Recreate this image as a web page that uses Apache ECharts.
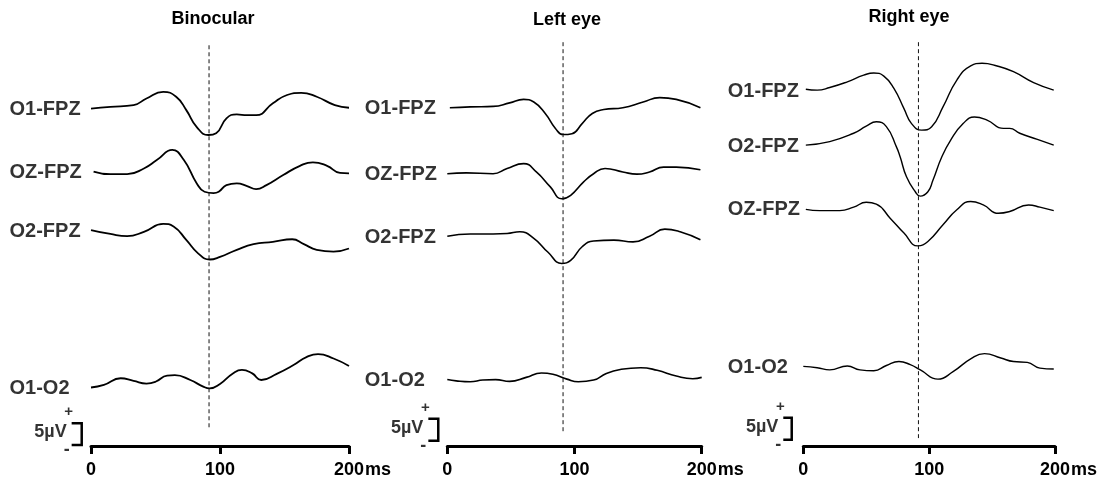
<!DOCTYPE html>
<html>
<head>
<meta charset="utf-8">
<script src="https://cdn.jsdelivr.net/npm/echarts@6/dist/echarts.min.js"></script>
<style>html,body{margin:0;padding:0;background:#fff;}#chart{width:1104px;height:481px;}</style>
</head>
<body>
<div id="chart"></div>
<script>
// ---------- DATA (time in ms, amplitude in µV) ----------
const panelTitles = ['Binocular', 'Left eye', 'Right eye'];
const channelsBinocular = ['O1-FPZ', 'OZ-FPZ', 'O2-FPZ', 'O1-O2'];
const channelsLeft = ['O1-FPZ', 'OZ-FPZ', 'O2-FPZ', 'O1-O2'];
const channelsRight = ['O1-FPZ', 'O2-FPZ', 'OZ-FPZ', 'O1-O2'];
const xTicks = [0, 100, 200];
const timeUnit = 'ms';
const scaleBarValue = 5; // µV
const scaleBarLabel = '5µV';
const latencies = [91.5, 91, 91.5]; // dashed latency marker, ms

// channel baselines (µV above the time axis)
const offsetsBinocular = [76.8, 62.3, 49.1, 13.4];
const offsetsLeft = [77.0, 62.0, 47.7, 15.2];
const offsetsRight = [80.9, 68.4, 53.9, 18.0];

// Binocular
const binoO1FPZ = [[0,-0.1],[15,0.3],[33,0.7],[43,2.2],[56,3.7],[66,2.6],[74,-0.5],[82,-4.3],[91,-6.1],[97,-5.7],[105,-2.3],[113,-1.4],[121,-1.6],[128,-1.6],[141,1.1],[152,3.0],[163,3.5],[175,2.6],[189,0.7],[200,0.1]];
const binoOZFPZ = [[2,0.1],[15,-0.5],[28,-0.5],[41,0.8],[51,2.7],[63,5.0],[72,2.7],[82,-2.6],[88,-4.5],[95,-4.8],[99,-4.5],[105,-3.0],[113,-2.6],[121,-3.2],[128,-3.9],[136,-3.0],[149,-0.7],[162,1.4],[172,2.2],[183,1.4],[193,-0.2],[200,-0.3]];
const binoO2FPZ = [[0,0],[15,-0.9],[28,-1.4],[41,-0.4],[56,1.4],[64,0.8],[74,-2.3],[83,-5.3],[92,-6.7],[100,-6.1],[113,-4.5],[126,-3.2],[141,-2.7],[156,-2.1],[165,-3.2],[175,-4.5],[188,-4.9],[200,-4.2]];
const binoO1O2 = [[0,-0.1],[10,0.5],[23,2.0],[33,1.4],[43,0.8],[50,1.2],[59,2.6],[65,2.7],[77,1.6],[87,0.1],[92,-0.3],[100,0.7],[110,3.1],[117,3.9],[125,3.1],[132,1.6],[144,3.0],[157,5.0],[167,6.8],[176,7.5],[188,6.5],[200,4.8]];

// Left eye
const leftO1FPZ = [[2,-0.1],[18,0.1],[36,0.2],[49,1.0],[60,1.8],[68,1.2],[77,-1.4],[85,-4.8],[91,-6.2],[98,-6.0],[106,-3.7],[114,-1.4],[123,-0.5],[138,-0.1],[154,1.2],[167,2.2],[180,1.8],[199,-0.1]];
const leftOZFPZ = [[0,-0.1],[15,0.1],[36,-0.1],[47,1.1],[60,2.2],[70,0.3],[81,-3.1],[90,-5.8],[97,-5.0],[107,-2.0],[115,-0.1],[124,1.1],[138,0.3],[149,-0.2],[159,0.3],[170,1.4],[180,1.4],[199,0.8]];
const leftO2FPZ = [[0,0],[18,0.5],[36,0.5],[47,0.6],[57,1.0],[68,-0.5],[79,-3.6],[90,-6.2],[97,-5.5],[106,-2.4],[115,-1.1],[131,-0.9],[146,-1.3],[159,0],[171,1.6],[183,1.0],[199,-0.8]];
const leftO1O2 = [[0,-0.1],[7,-0.4],[18,-0.6],[28,-0.2],[38,-0.1],[49,-0.5],[62,0.4],[74,1.4],[83,1.1],[94,0],[103,-0.6],[115,-0.2],[125,1.3],[136,2.2],[152,2.6],[165,2.0],[180,0.7],[193,0.1],[200,0.4]];

// Right eye
const rightO1FPZ = [[2,0.2],[11,0],[21,0.6],[35,1.9],[48,3.4],[56,3.9],[64,3.2],[72,0.4],[80,-4.2],[86,-7.6],[94,-9.1],[102,-8.3],[111,-3.8],[122,2.3],[133,5.5],[142,6.1],[154,5.5],[167,4.2],[183,1.7],[199,0]];
const rightO2FPZ = [[2,0],[21,0.8],[40,2.7],[50,4.3],[58,5.3],[66,4.2],[74,-0.4],[77,-2.7],[82,-7.2],[89,-10.6],[93,-11.6],[99,-10.6],[103,-8.0],[110,-2.7],[117,1.1],[127,4.9],[136,6.4],[146,5.7],[159,3.8],[164,3.8],[172,2.7],[186,1.3],[199,0]];
const rightOZFPZ = [[2,-0.1],[13,-0.4],[29,-0.4],[40,0.4],[50,1.5],[58,1.1],[69,-2.1],[80,-5.5],[91,-8.4],[99,-7.4],[111,-3.6],[122,-0.2],[133,1.7],[143,0.9],[155,-1.0],[164,-0.6],[179,0.9],[188,0.4],[199,-0.4]];
const rightO1O2 = [[0,0.1],[11,-0.2],[21,-0.7],[35,0.2],[45,-0.7],[56,-0.9],[66,0.3],[76,1.2],[85,0.5],[93,-0.7],[107,-2.8],[119,-1.1],[133,1.8],[144,3.0],[157,2.0],[167,1.2],[178,1.0],[188,-0.3],[199,-0.5]];

// ---------- LAYOUT / STYLE ----------
const FONT = '"Liberation Sans", Arial, sans-serif';
const Y_MAX = 92.3;            // µV range shown in each panel (5 µV ≈ 22 px)
const panels = [
  {channels: channelsBinocular, offsets: offsetsBinocular, traces: [binoO1FPZ, binoOZFPZ, binoO2FPZ, binoO1O2],
   left: 91, width: 258, lineWidth: 1.8, labelDx: -81, titleX: 213, titleY: 19,
   bar: {xL: -15, xR: -7.2, base: 0.2}, latTop: 91.1, latBottom: 4.1},
  {channels: channelsLeft, offsets: offsetsLeft, traces: [leftO1FPZ, leftOZFPZ, leftO2FPZ, leftO1O2],
   left: 447.3, width: 254.4, lineWidth: 1.6, labelDx: -82, titleX: 567, titleY: 20,
   bar: {xL: -14.9, xR: -7.1, base: 1.2}, latTop: 91.8, latBottom: 3.0},
  {channels: channelsRight, offsets: offsetsRight, traces: [rightO1FPZ, rightO2FPZ, rightOZFPZ, rightO1O2],
   left: 803.3, width: 251.7, lineWidth: 1.4, labelDx: -75, titleX: 909, titleY: 17,
   bar: {xL: -15.9, xR: -9.2, base: 1.4}, latTop: 91.8, latBottom: 1.8}
];

const grids = [], xAxes = [], yAxes = [], series = [], graphics = [];
panels.forEach((p, pi) => {
  grids.push({left: p.left, width: p.width, top: 40, height: 406});
  xAxes.push({
    type: 'value', gridIndex: pi, min: xTicks[0], max: xTicks[xTicks.length - 1], interval: xTicks[1] - xTicks[0],
    axisLine: {show: true, onZero: false, lineStyle: {color: '#000', width: 3}},
    axisTick: {show: true, length: 8, lineStyle: {color: '#000', width: 3}},
    splitLine: {show: false},
    axisLabel: {color: '#000', fontFamily: FONT, fontWeight: 'bold', fontSize: 18, margin: 15},
    name: timeUnit, nameLocation: 'end', nameGap: 16, nameMoveOverlap: false,
    nameTextStyle: {color: '#000', fontFamily: FONT, fontWeight: 'bold', fontSize: 18, verticalAlign: 'top', padding: [15, 0, 0, 0]}
  });
  yAxes.push({type: 'value', gridIndex: pi, min: 0, max: Y_MAX, show: false});

  // traces
  p.traces.forEach((tr, ci) => {
    series.push({
      type: 'line', name: panelTitles[pi] + ' ' + p.channels[ci], xAxisIndex: pi, yAxisIndex: pi,
      data: tr.map(([t, v]) => [t, +(v + p.offsets[ci]).toFixed(2)]),
      smooth: 0.5, showSymbol: false, silent: true, clip: false,
      lineStyle: {color: '#000', width: p.lineWidth}
    });
  });

  // latency marker
  series.push({
    type: 'line', xAxisIndex: pi, yAxisIndex: pi, silent: true, showSymbol: false,
    data: [[latencies[pi], p.latTop], [latencies[pi], p.latBottom]],
    lineStyle: {color: '#111', width: 1, type: [4, 3]}
  });

  // channel labels
  series.push({
    type: 'scatter', xAxisIndex: pi, yAxisIndex: pi, silent: true, clip: false, symbolSize: 1,
    itemStyle: {color: 'rgba(0,0,0,0)'},
    data: p.channels.map((c, ci) => ({name: c, value: [0, p.offsets[ci]]})),
    label: {show: true, formatter: '{b}', position: [p.labelDx, 1.5], align: 'left', verticalAlign: 'middle',
            color: '#000', fontFamily: FONT, fontWeight: 'bold', fontSize: 20}
  });

  // scale bar bracket (custom series, drawn through the axes' scales)
  const b = p.bar, top = b.base + scaleBarValue;
  series.push({
    type: 'custom', xAxisIndex: pi, yAxisIndex: pi, silent: true, clip: false,
    data: [[b.xL, b.xR, b.base, top]],
    encode: {x: [0, 1], y: [2, 3]},
    renderItem: function (params, api) {
      const a = api.coord([api.value(0), api.value(3)]);
      const c = api.coord([api.value(1), api.value(3)]);
      const d = api.coord([api.value(1), api.value(2)]);
      const e = api.coord([api.value(0), api.value(2)]);
      return {type: 'polyline', shape: {points: [a, c, d, e]},
              style: {stroke: '#000', lineWidth: 2.5, fill: null, lineJoin: 'miter'}};
    }
  });
  series.push({
    type: 'scatter', xAxisIndex: pi, yAxisIndex: pi, silent: true, clip: false, symbolSize: 1,
    itemStyle: {color: 'rgba(0,0,0,0)'},
    data: [
      {value: [b.xL, b.base + scaleBarValue / 2], label: {formatter: scaleBarLabel, align: 'right', offset: [-5, -2], fontSize: 18}},
      {value: [b.xL, top], label: {formatter: '+', offset: [-3, -11], fontSize: 15}},
      {value: [b.xL, b.base], label: {formatter: '-', offset: [-5, 5], fontSize: 18}}
    ],
    label: {show: true, position: 'inside', color: '#000', fontFamily: FONT, fontWeight: 'bold', verticalAlign: 'middle'}
  });

  graphics.push({
    type: 'text', x: p.titleX, y: p.titleY,
    style: {text: panelTitles[pi], fill: '#000', font: 'bold 18px ' + FONT, textAlign: 'center', textVerticalAlign: 'middle'}
  });
});

const chart = echarts.init(document.getElementById('chart'), null, {renderer: 'canvas'});
chart.setOption({
  backgroundColor: '#fff',
  animation: false,
  grid: grids, xAxis: xAxes, yAxis: yAxes, series: series, graphic: graphics
});
</script>
</body>
</html>
